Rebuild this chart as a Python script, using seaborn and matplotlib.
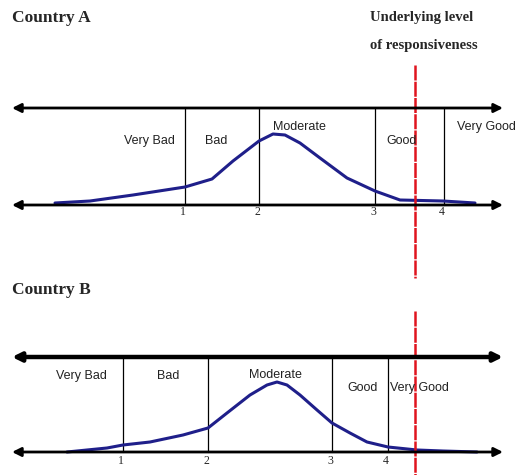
import matplotlib
matplotlib.use('Agg')
import matplotlib.pyplot as plt
import seaborn as sns
import pandas as pd

# Data (in picture pixel units)
categories = ['Very Bad', 'Bad', 'Moderate', 'Good', 'Very Good']
tick_labels = ['1', '2', '3', '4']

# Country A
a_cuts = [185, 259, 375, 444]
a_curve_x = [55, 90, 133, 185, 212, 233, 259, 273, 285, 300, 320, 347, 375, 400, 443, 475]
a_curve_y = [203, 201, 195, 187, 179, 161, 141, 134, 135, 143, 158, 178, 191, 200, 201, 203]

# Country B
b_cuts = [123, 208, 332, 388]
b_curve_x = [67, 107, 123, 150, 183, 208, 227, 250, 267, 277, 287, 300, 317, 332, 350, 367, 388, 417, 443, 477]
b_curve_y = [452, 448, 445, 442, 435, 428, 413, 395, 385, 382, 385, 395, 410, 423, 433, 442, 447, 450, 451, 452]

responsiveness = 415
red_segments = [(65, 278), (311, 475)]

sns.set_style('white')
plt.rcParams['font.family'] = ['Liberation Sans', 'DejaVu Sans']

fig = plt.figure(figsize=(5.17, 4.75), dpi=100)
ax = fig.add_axes([0, 0, 1, 1])
ax.set_xlim(0, 517)
ax.set_ylim(475, 0)
ax.axis('off')

navy = '#1f1f8a'
serif = ['Liberation Serif', 'DejaVu Serif']


def draw_panel(top, bottom, cuts, cx, cy, top_lw, label_pos, tick_y):
    # double-headed axis lines
    for y, lw in [(top, top_lw), (bottom, 2)]:
        ax.annotate('', xy=(503, y), xytext=(12, y),
                    arrowprops=dict(arrowstyle='<|-|>', color='black', lw=lw,
                                    mutation_scale=13, shrinkA=0, shrinkB=0))
    # cut points
    for c, t in zip(cuts, tick_labels):
        ax.plot([c, c], [top, bottom], color='black', lw=0.9)
        ax.text(c - 2, tick_y, t, ha='center', va='center', fontsize=8.5,
                family=serif)
    # distribution
    df = pd.DataFrame({'x': cx, 'y': cy})
    sns.lineplot(data=df, x='x', y='y', ax=ax, color=navy, lw=2.2, sort=False)
    for name, (x, y) in zip(categories, label_pos):
        ax.text(x, y, name, ha='center', va='center', fontsize=9,
                color='#222222')


draw_panel(108, 205, a_cuts, a_curve_x, a_curve_y, 2,
           [(149, 141), (216, 141), (299, 127), (402, 141), (486, 127)], 212)
draw_panel(357, 452, b_cuts, b_curve_x, b_curve_y, 3.2,
           [(81, 376), (168, 376), (275, 375), (363, 388), (419, 388)], 461)

ax.set_xlabel('')
ax.set_ylabel('')

# underlying level line
for y0, y1 in red_segments:
    ax.plot([responsiveness, responsiveness], [y0, y1], color='#e0141e',
            lw=1.8, dashes=(6, 0.5))

ax.text(12, 18, 'Country A', ha='left', va='center', fontsize=12.5,
        fontweight='bold', family=serif)
ax.text(12, 290, 'Country B', ha='left', va='center', fontsize=12.5,
        fontweight='bold', family=serif)
ax.text(422, 18, 'Underlying level', ha='center', va='center', fontsize=10.5,
        fontweight='bold', family=serif)
ax.text(424, 46, 'of responsiveness', ha='center', va='center', fontsize=10.5,
        fontweight='bold', family=serif)

fig.savefig('out.png', dpi=100)
